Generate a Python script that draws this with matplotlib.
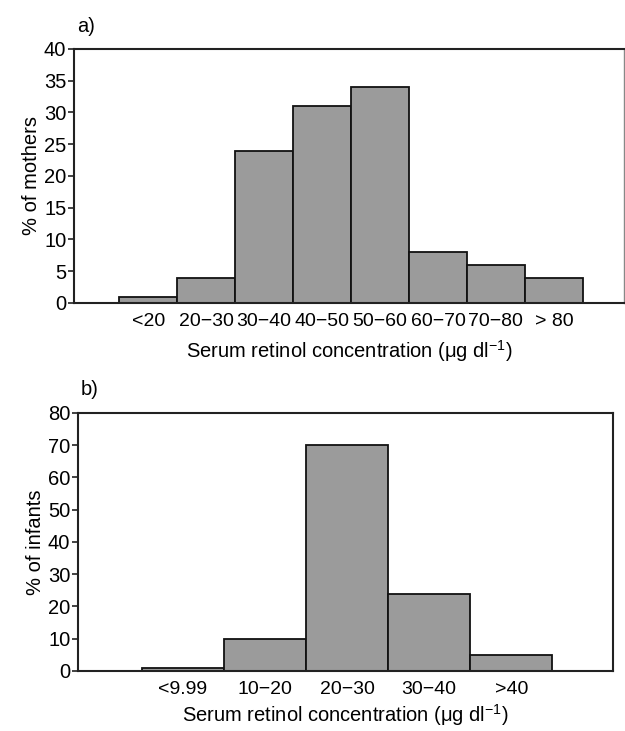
import numpy as np
import matplotlib
matplotlib.use('Agg')
import matplotlib.pyplot as plt

plt.rcParams['font.family'] = ['Liberation Sans', 'DejaVu Sans']
plt.rcParams['mathtext.fontset'] = 'custom'
plt.rcParams['mathtext.rm'] = 'Liberation Sans'
plt.rcParams['mathtext.it'] = 'Liberation Sans'
plt.rcParams['mathtext.default'] = 'regular'

# data
mother_bins = ['<20', '20\u221230', '30\u221240', '40\u221250', '50\u221260',
               '60\u221270', '70\u221280', '> 80']
mother_pct = [1, 4, 24, 31, 34, 8, 6, 4]

infant_bins = ['<9.99', '10\u221220', '20\u221230', '30\u221240', '>40']
infant_pct = [1, 10, 70, 24, 5]

mother_yticks = np.arange(0, 45, 5)
infant_yticks = np.arange(0, 90, 10)

bar_color = '#9b9b9b'
xlab = 'Serum retinol concentration ($\\mu$g dl$^{\\mathrm{\u2212}1}$)'

fig = plt.figure(figsize=(6.25, 7.31), dpi=100)


def draw_panel(ax, labels, values, yticks, ylabel, xlim, tag, xpad):
    x = np.arange(1, len(values) + 1)
    ax.bar(x, values, width=1.0, color=bar_color, edgecolor='#111111', linewidth=1.3)
    ax.set_xlim(*xlim)
    ax.set_ylim(yticks[0], yticks[-1])
    ax.set_yticks(yticks)
    ax.set_xticks(x)
    ax.set_xticklabels(labels, fontsize=14)
    ax.tick_params(axis='x', length=0, pad=7)
    ax.tick_params(axis='y', length=4, width=1.2, labelsize=14.5, pad=1.5, color='#222222')
    ax.set_ylabel(ylabel, fontsize=14.5, labelpad=2)
    ax.set_xlabel(xlab, fontsize=14.5, labelpad=xpad)
    for s in ax.spines.values():
        s.set_linewidth(1.5)
        s.set_color('#222222')
    ax.text(0.005, 1.09, tag, transform=ax.transAxes, fontsize=14.5, ha='left', va='center')


ax1 = fig.add_axes([0.1184, 0.5855, 0.88, 0.3475])
draw_panel(ax1, mother_bins, mother_pct, mother_yticks, '% of mothers',
           (-0.28, 9.21), 'a)', 6)
ax1.spines['right'].set_linewidth(1.0)
ax1.spines['right'].set_color('#888888')

ax2 = fig.add_axes([0.1248, 0.0821, 0.856, 0.353])
draw_panel(ax2, infant_bins, infant_pct, infant_yticks, '% of infants',
           (-0.28, 6.24), 'b)', 3.5)

fig.savefig('out.png', dpi=100)
